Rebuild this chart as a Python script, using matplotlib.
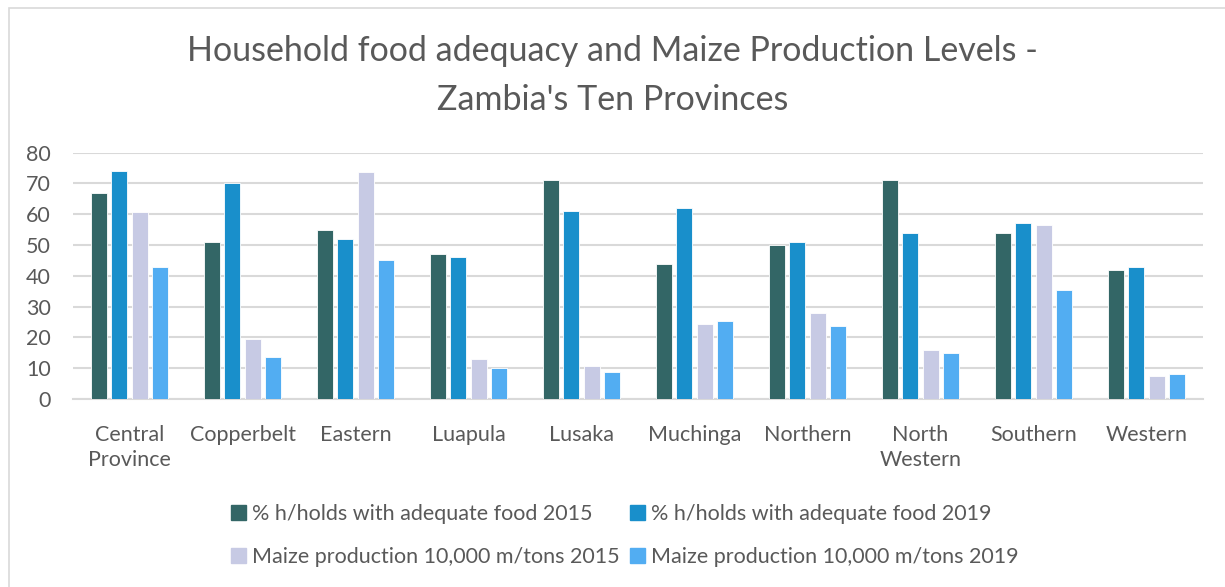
import matplotlib.pyplot as plt
import matplotlib.patches as mpatches
import numpy as np

plt.rcParams['font.family'] = ['Lato', 'DejaVu Sans']

provinces = ["Central\nProvince", "Copperbelt", "Eastern", "Luapula", "Lusaka",
             "Muchinga", "Northern", "North\nWestern", "Southern", "Western"]
food_2015 = [67, 51, 55, 47, 71, 44, 50, 71, 54, 42]
food_2019 = [74, 70, 52, 46, 61, 62, 51, 54, 57, 43]
maize_2015 = [60.6, 19.5, 73.7, 12.9, 10.8, 24.4, 27.9, 16.0, 56.4, 7.6]
maize_2019 = [42.8, 13.6, 45.2, 10.1, 8.9, 25.2, 23.8, 14.9, 35.5, 8.2]

series = [
    ("% h/holds with adequate food 2015", food_2015, "#336666"),
    ("% h/holds with adequate food 2019", food_2019, "#198FCB"),
    ("Maize production 10,000 m/tons 2015", maize_2015, "#C7CAE4"),
    ("Maize production 10,000 m/tons 2019", maize_2019, "#52ADF2"),
]

txt = "#595959"
grid = "#D9D9D9"

fig = plt.figure(figsize=(12.25, 5.87), dpi=100)
ax = fig.add_axes([0.0596, 0.3203, 0.9224, 0.4196])

x = np.arange(len(provinces))
step = 0.182
width = 0.142
for i, (name, vals, col) in enumerate(series):
    ax.bar(x + (i - 1.5) * step, vals, width, color=col, label=name,
           edgecolor="white", linewidth=0.6, zorder=3)

ax.set_xlim(-0.5, len(provinces) - 0.5)
ax.set_ylim(0, 80)
ax.set_yticks(range(0, 81, 10))
ax.yaxis.grid(True, color=grid, linewidth=1.5, zorder=0)
for s in ["top", "right", "left"]:
    ax.spines[s].set_visible(False)
ax.spines["bottom"].set_color(grid)
ax.spines["bottom"].set_linewidth(1.5)
ax.tick_params(axis="both", length=0, labelsize=15.5, labelcolor=txt)
ax.tick_params(axis="y", pad=16)
ax.tick_params(axis="x", pad=19)
ax.set_xticks(x)
ax.set_xticklabels(provinces, linespacing=1.3)

fig.suptitle("Household food adequacy and Maize Production Levels -\nZambia's Ten Provinces",
             fontsize=24.5, color=txt, y=0.94, linespacing=1.65)

# legend fills column-wise, so order handles to get the reference rows
h = [mpatches.Patch(color=c, label=n) for n, v, c in series]
handles = [h[0], h[2], h[1], h[3]]
fig.legend(handles=handles, ncol=2, loc="center", bbox_to_anchor=(0.51, 0.088),
           frameon=False, fontsize=15.5, labelcolor=txt, handlelength=0.7,
           handleheight=0.7, handletextpad=0.3, columnspacing=0.45, labelspacing=1.05)

fig.patches.append(mpatches.Rectangle((0.0073, -0.01), 1.0, 0.996, transform=fig.transFigure,
                                      fill=False, edgecolor=grid, linewidth=1.2))

fig.savefig("out.png", dpi=100)
